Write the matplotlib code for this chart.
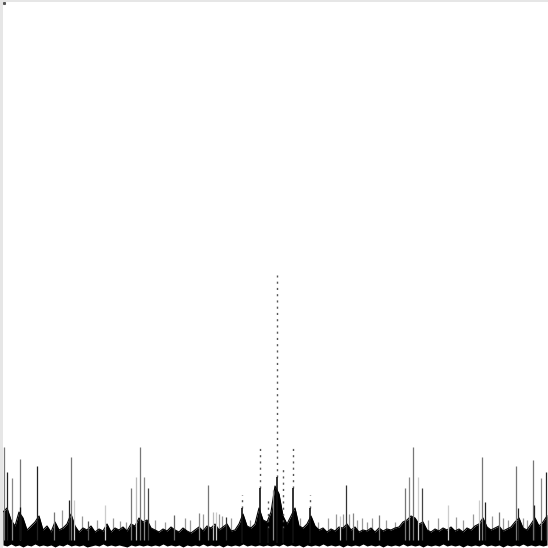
import numpy as np
import matplotlib
matplotlib.use("Agg")
import matplotlib.pyplot as plt

# ---- noise floor: top of the dense band, sampled every 4 bins from bin 3 ----
floor_top = [36, 40, 28, 22, 36, 30, 18, 22, 26, 32, 18, 22, 16, 26, 18, 20, 24, 34, 22, 16,
             20, 18, 22, 16, 19, 17, 24, 16, 20, 18, 21, 17, 24, 22, 30, 26, 28, 20, 18, 16,
             19, 17, 21, 18, 16, 20, 17, 15, 18, 21, 17, 22, 20, 24, 18, 21, 24, 17, 18, 24,
             34, 22, 20, 24, 40, 28, 26, 36, 62, 54, 32, 24, 32, 40, 22, 20, 24, 32, 22, 18,
             20, 16, 19, 17, 21, 20, 24, 18, 21, 16, 18, 17, 20, 16, 20, 17, 19, 18, 20, 21,
             26, 28, 32, 30, 24, 26, 18, 16, 19, 17, 20, 18, 21, 17, 19, 16, 20, 18, 22, 24,
             30, 21, 18, 20, 22, 17, 19, 21, 26, 30, 20, 18, 24, 30, 22, 26, 32]
floor_x = np.arange(len(floor_top)) * 4 + 3
floor_bottom = [3, 2, 4, 2, 3, 1, 3, 2, 4, 2, 3, 2, 3, 1, 3, 2, 4, 2, 3, 2,
                3, 1, 2, 3, 2, 4, 2, 3, 2, 3, 2, 1, 3, 2, 3, 2, 3, 2, 3, 2,
                4, 2, 3, 2, 3, 1, 3, 2, 3, 2, 4, 2, 3, 2, 3, 1, 3, 2, 3, 2,
                4, 2, 3, 2, 3, 2, 3, 2, 3, 2, 4, 2, 3, 2, 3, 1, 3, 2, 3, 2,
                4, 2, 3, 2, 3, 1, 3, 2, 3, 2, 4, 2, 3, 2, 3, 1, 3, 2, 3, 2,
                4, 2, 3, 2, 3, 1, 3, 2, 3, 2, 4, 2, 3, 2, 3, 1, 3, 2, 3, 2,
                4, 2, 3, 2, 3, 1, 3, 2, 3, 2, 4, 2, 3, 2, 3, 2, 3]

# ---- small grey spikes just above the floor ----
minor_x = [62, 82, 97, 113, 120, 126, 155, 165, 185, 190, 203, 219, 222, 231, 250,
           300, 318, 328, 336, 343, 349, 357, 362, 367, 372, 386, 395,
           428, 438, 456, 463, 473, 492, 503, 508, 523, 527]
minor_h = [38, 32, 28, 30, 27, 26, 28, 26, 30, 28, 34, 34, 32, 30, 28,
           30, 26, 30, 34, 34, 34, 28, 30, 26, 30, 28, 26,
           28, 30, 31, 28, 34, 32, 30, 28, 30, 28]

# ---- solid spectral lines ----
peak_x = [4, 7, 12, 20, 20, 37, 54, 69, 71, 74, 88, 105, 131, 136, 140, 144, 148,
          174, 199, 208, 213, 216, 226, 273, 340, 346, 353, 379, 405, 409, 413,
          418, 422, 448, 479, 482, 485, 499, 516, 518, 533, 534, 541, 546]
peak_h = [101, 76, 70, 89, 41, 82, 36, 48, 91, 48, 27, 43, 60, 71, 101, 71, 60,
          33, 35, 63, 36, 36, 31, 58, 32, 63, 35, 33, 60, 71, 101,
          71, 60, 43, 48, 91, 46, 36, 82, 40, 88, 43, 70, 76]
peak_shade = ['#777777', '#222222', '#888888', '#777777', '#111111', '#222222', '#777777',
              '#222222', '#777777', '#cccccc', '#555555', '#cccccc', '#777777', '#bbbbbb',
              '#777777', '#888888', '#444444', '#666666', '#888888', '#777777', '#bbbbbb',
              '#cccccc', '#333333', '#888888', '#cccccc', '#333333', '#888888', '#777777',
              '#777777', '#888888', '#777777', '#cccccc', '#444444', '#cccccc', '#cccccc',
              '#777777', '#222222', '#777777', '#777777', '#222222', '#777777', '#222222',
              '#888888', '#222222']

# ---- dotted (intermittent) lines: bin, dotted top, solid top ----
dot_x = [242, 260, 268, 277, 283, 293, 310]
dot_top = [53, 103, 48, 273, 80, 103, 53]
dot_solid = [40, 60, 20, 71, 20, 60, 40]

fig = plt.figure(figsize=(5.48, 5.48), dpi=100, facecolor='#e6e6e6')
ax = fig.add_axes([3 / 548, 0, 545 / 548, 546 / 548])
ax.set_xlim(3, 548)
ax.set_ylim(0, 546)
ax.axis('off')
ax.add_patch(plt.Rectangle((3, 0), 545, 546, color='white', zorder=0))

ax.vlines(minor_x, 4, minor_h, colors='#999999', lw=0.9, zorder=1)
ax.fill_between(floor_x, floor_bottom, floor_top, color='black', lw=0, zorder=2)
ax.plot(floor_x, floor_top, color='black', lw=0.8, zorder=2)

ax.vlines(peak_x, 8, peak_h, colors=peak_shade, lw=0.9, zorder=3)

for x, top, solid in zip(dot_x, dot_top, dot_solid):
    ax.vlines(x, solid, top, colors='#555555', lw=1.0, linestyles=(0, (1.5, 3)), zorder=3)
    ax.vlines(x, 5, solid, colors='#111111', lw=1.2, zorder=3)

ax.plot([3.5], [545], marker='s', ms=1.2, color='#555555', zorder=4)

fig.savefig('out.png', dpi=100, facecolor=fig.get_facecolor())
